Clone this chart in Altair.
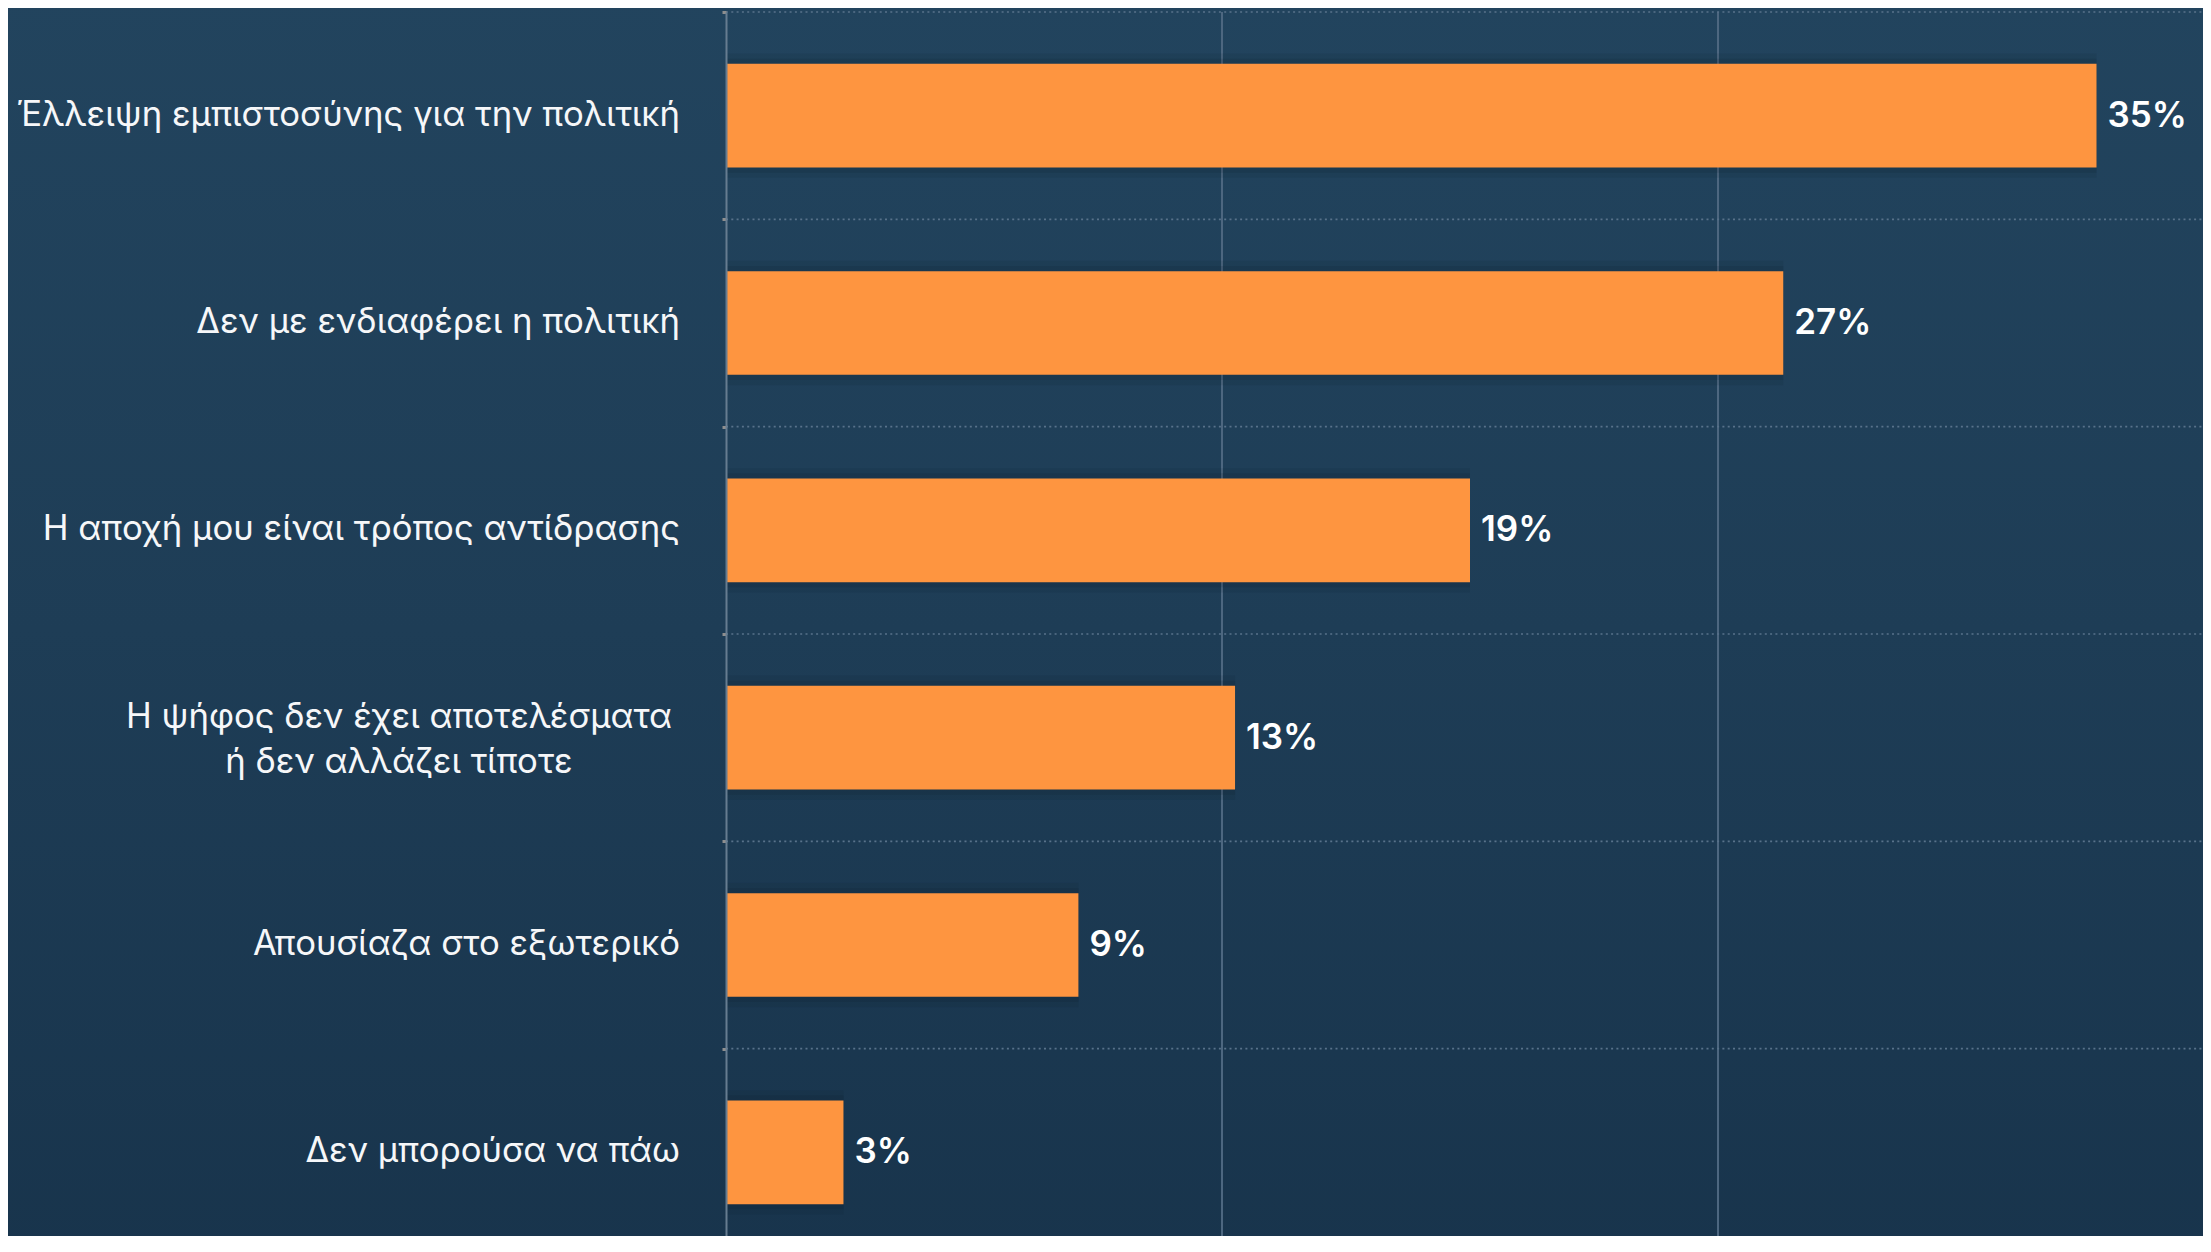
import altair as alt
import pandas as pd

categories = [
    "Έλλειψη εμπιστοσύνης για την πολιτική",
    "Δεν με ενδιαφέρει η πολιτική",
    "Η αποχή μου είναι τρόπος αντίδρασης",
    "Η ψήφος δεν έχει αποτελέσματα|ή δεν αλλάζει τίποτε",
    "Απουσίαζα στο εξωτερικό",
    "Δεν μπορούσα να πάω",
]
values = [35, 27, 19, 13, 9, 3]
value_labels = ["35%", "27%", "19%", "13%", "9%", "3%"]
grid_values = [38 / 3, 76 / 3]

W = 1477
H = 1224
BAND_RANGE = 1244
X_MAX = 38 * W / 1488

df = pd.DataFrame({"cat": categories, "v": values, "lbl": value_labels})
grid_df = pd.DataFrame({"g": grid_values})
bg_df = pd.DataFrame({"a": [0]})

xscale = alt.Scale(domain=[0, X_MAX], nice=False, zero=True)
yscale = alt.Scale(domain=categories, range=[0, BAND_RANGE], paddingInner=0, paddingOuter=0)

yaxis = alt.Axis(
    title=None,
    labels=False,
    domain=True,
    domainColor="#667c90",
    domainWidth=2,
    ticks=True,
    tickColor="#8f8f8f",
    tickWidth=3,
    tickSize=4,
    tickBand="extent",
    grid=False,
    zindex=1,
)

y_enc = alt.Y("cat:N", sort=categories, scale=yscale, axis=yaxis)

gradient = alt.LinearGradient(
    gradient="linear",
    stops=[
        alt.GradientStop(color="#22445e", offset=0),
        alt.GradientStop(color="#1e3d56", offset=0.5),
        alt.GradientStop(color="#18344c", offset=1),
    ],
    x1=0, x2=0, y1=0, y2=1,
)

bg = alt.Chart(bg_df).mark_rect(fill=gradient).encode(
    x=alt.value(-730), x2=alt.value(W + 20), y=alt.value(-20), y2=alt.value(H + 30)
)

vgrid = alt.Chart(grid_df).mark_rule(color="#4d6780", strokeWidth=2).encode(
    x=alt.X("g:Q", scale=xscale, axis=None),
    y=alt.value(0),
    y2=alt.value(H + 30),
)

hgrid = alt.Chart(df).mark_rule(color="#58728a", strokeWidth=1.6, strokeDash=[2, 3.3]).encode(
    y=alt.Y("cat:N", sort=categories, scale=yscale, axis=yaxis, bandPosition=0),
    x=alt.value(0),
    x2=alt.value(W),
)

shadow1 = alt.Chart(df).mark_bar(
    color="#0b1a28", opacity=0.10, height=alt.RelativeBandSize(0.6), x2Offset=12
).encode(
    x=alt.X("v:Q", scale=xscale, axis=None),
    y=y_enc,
)

shadow2 = alt.Chart(df).mark_bar(
    color="#0b1a28", opacity=0.14, height=alt.RelativeBandSize(0.55), x2Offset=6
).encode(
    x=alt.X("v:Q", scale=xscale, axis=None),
    y=y_enc,
)

bars = alt.Chart(df).mark_bar(color="#fe9540", height=alt.RelativeBandSize(0.5)).encode(
    x=alt.X("v:Q", scale=xscale, axis=None),
    y=y_enc,
)

texts = alt.Chart(df).mark_text(
    align="left", baseline="middle", dx=11, font="Inter", fontSize=35, fontWeight=600, color="#ffffff"
).encode(
    x=alt.X("v:Q", scale=xscale, axis=None),
    y=y_enc,
    text="lbl:N",
)

cat_labels_single = alt.Chart(df).transform_filter(
    "indexof(datum.cat, '|') < 0"
).mark_text(
    align="right", baseline="middle", font="Inter", fontSize=34.7, color="#f6f7f9"
).encode(
    x=alt.value(-46),
    y=y_enc,
    text="cat:N",
)

cat_labels_wrapped = alt.Chart(df).transform_filter(
    "indexof(datum.cat, '|') >= 0"
).mark_text(
    align="center", baseline="middle", font="Inter", fontSize=34.7, color="#f6f7f9",
    lineBreak="|", lineHeight=45, dy=-20,
).encode(
    x=alt.value(-327),
    y=y_enc,
    text="cat:N",
)

chart = alt.layer(
    bg, vgrid, hgrid, shadow1, shadow2, bars, texts, cat_labels_single, cat_labels_wrapped
).properties(
    width=W,
    height=H,
    autosize=alt.AutoSizeParams(type="none"),
    padding={"left": 718, "top": 4, "right": 0, "bottom": 0},
    background="#1e3d56",
).configure_view(stroke=None)

chart.save("out.html", embed_options={"renderer": "svg", "actions": False})
